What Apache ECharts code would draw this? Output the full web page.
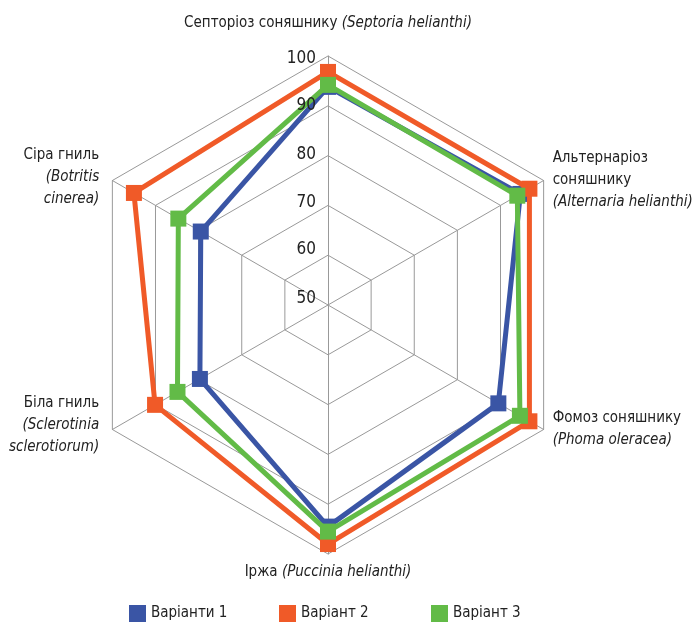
<!DOCTYPE html>
<html>
<head>
<meta charset="utf-8">
<script src="https://cdn.jsdelivr.net/npm/echarts@6/dist/echarts.min.js"></script>
<style>
  html, body { margin: 0; padding: 0; background: #fff; }
  #chart { width: 694px; height: 624px; }
</style>
</head>
<body>
<div id="chart"></div>
<script>
// Disease names (Ukrainian name + Latin name), in radar order starting at the top, counter-clockwise
const diseaseNames = [
  ['Септоріоз соняшнику', '(Septoria helianthi)'],
  ['Сіра гниль', '(Botritis', 'cinerea)'],
  ['Біла гниль', '(Sclerotinia', 'sclerotiorum)'],
  ['Іржа', '(Puccinia helianthi)'],
  ['Фомоз соняшнику', '(Phoma oleracea)'],
  ['Альтернаріоз', 'соняшнику', '(Alternaria helianthi)']
];

const seriesNames = ['Варіанти 1', 'Варіант 2', 'Варіант 3'];

// Values per variant, same order as diseaseNames
const variant1 = [93.8, 79.5, 79.7, 94.5, 89.5, 94.6];
const variant2 = [96.8, 95.0, 90.1, 98.0, 96.7, 96.7];
const variant3 = [94.2, 84.7, 84.9, 95.5, 94.5, 93.9];

const axisMin = 50;
const axisMax = 100;
const axisTicks = [50, 60, 70, 80, 90, 100];

const colors = ['#3A55A5', '#F05A28', '#62BB47'];
const FONT = '"Liberation Sans Narrow", "DejaVu Sans Condensed", "Roboto", sans-serif';

// rich style key per label: a = centred, l = left side, r = right side, d = lower left
const sideKeys = ['a', 'l', 'd', 'a', 'r', 'r'];

function nameText(parts, idx) {
  const s = sideKeys[idx];
  if (idx === 0 || idx === 3) {
    return '{n' + s + '|' + parts[0] + '} {i' + s + '|' + parts[1] + '}';
  }
  if (idx === 5) {
    return '{n' + s + '|' + parts[0] + '}\n{n' + s + '|' + parts[1] + '}\n{i' + s + '|' + parts[2] + '}';
  }
  return parts.map((p, k) => '{' + (k === 0 ? 'n' : 'i') + s + '|' + p + '}').join('\n');
}

const nameGaps = [22, 6, -9, 7, 0, 0];

// tick labels sit a little above their rings, more so towards the centre
// [top, bottom] padding per tick label
const tickPad = { 50: [0, 13], 60: [0, 11], 70: [0, 5], 80: [0, 3], 90: [0, 1], 100: [5, 0] };
const tickRich = {};
axisTicks.forEach(t => {
  tickRich['t' + t] = {
    fontFamily: FONT, fontSize: 17, color: '#222',
    padding: [tickPad[t][0], 0, tickPad[t][1], 0]
  };
});

const allValues = [variant1, variant2, variant3];

function richStyle(italic, pad) {
  return {
    fontFamily: FONT,
    fontSize: 15,
    color: '#222',
    lineHeight: 22,
    fontStyle: italic ? 'italic' : 'normal',
    padding: pad
  };
}

// grid radar: rings, spokes and indicator names
const gridIndicators = diseaseNames.map((parts, idx) => ({
  name: nameText(parts, idx),
  min: axisMin,
  max: axisMax,
  nameGap: nameGaps[idx]
}));

// overlay radar: only the tick values on the top spoke, drawn above the lines
const labelIndicators = diseaseNames.map((parts, idx) => {
  const ind = { name: '', min: axisMin, max: axisMax };
  if (idx === 0) {
    ind.axisLabel = {
      show: true,
      color: '#222',
      fontFamily: FONT,
      fontSize: 17,
      margin: 12,
      formatter: v => '{t' + v + '|' + v + '}',
      rich: tickRich
    };
  }
  return ind;
});

const legendLefts = [129, 279, 431];
const legends = seriesNames.map((name, k) => ({
  top: 605,
  left: legendLefts[k],
  padding: 0,
  itemWidth: 17,
  itemHeight: 17,
  itemGap: 5,
  icon: 'rect',
  textStyle: { fontFamily: FONT, fontSize: 15, color: '#222' },
  data: [name]
}));

const chart = echarts.init(document.getElementById('chart'), null, { renderer: 'canvas' });

chart.setOption({
  animation: false,
  backgroundColor: '#fff',
  color: colors,
  legend: legends,
  radar: [
    {
      center: [328, 305],
      radius: 249,
      startAngle: 90,
      splitNumber: 5,
      shape: 'polygon',
      indicator: gridIndicators,
      axisName: {
        color: '#222',
        fontFamily: FONT,
        fontSize: 15,
        lineHeight: 22,
        rich: {
          na: richStyle(false, 0),
          ia: richStyle(true, 0),
          nl: richStyle(false, [0, 8, 0, 0]),
          il: richStyle(true, [0, 8, 0, 0]),
          nd: richStyle(false, [0, 21, 0, 0]),
          id: richStyle(true, [0, 21, 0, 0]),
          nr: richStyle(false, [0, 0, 0, 9]),
          ir: richStyle(true, [0, 0, 0, 9])
        }
      },
      axisLabel: { show: false },
      axisLine: { lineStyle: { color: '#999', width: 1 } },
      splitLine: { lineStyle: { color: '#999', width: 1 } },
      splitArea: { show: false },
      axisTick: { show: false }
    },
    {
      z: 10,
      center: [328, 305],
      radius: 249,
      startAngle: 90,
      splitNumber: 5,
      shape: 'polygon',
      indicator: labelIndicators,
      axisName: { show: false },
      axisLabel: { show: false },
      axisLine: { show: false },
      splitLine: { show: false },
      splitArea: { show: false },
      axisTick: { show: false }
    }
  ],
  series: seriesNames.map((name, k) => ({
    type: 'radar',
    name: name,
    radarIndex: 0,
    symbol: 'rect',
    symbolSize: 16,
    z: 2 + k,
    lineStyle: { width: 5, color: colors[k] },
    itemStyle: { color: colors[k] },
    data: [{ name: name, value: allValues[k] }]
  }))
});
</script>
</body>
</html>
